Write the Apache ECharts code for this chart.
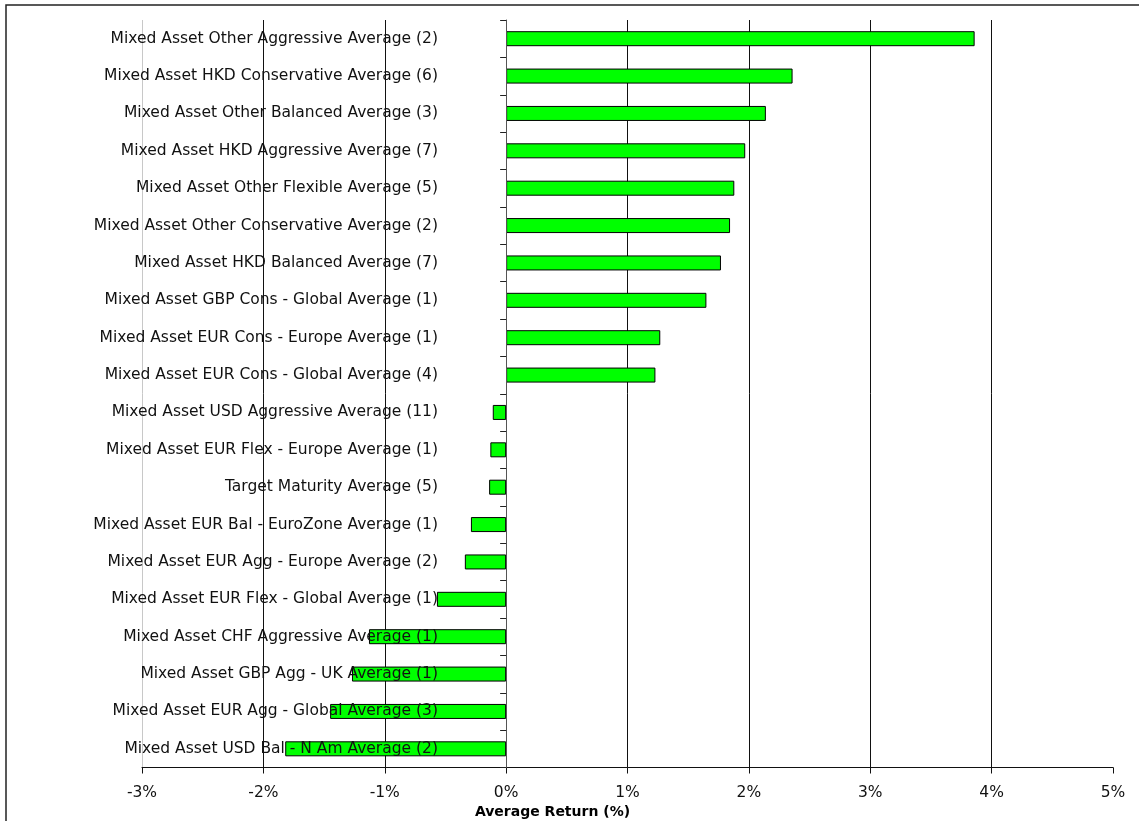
<!DOCTYPE html>
<html>
<head>
<meta charset="utf-8">
<script src="https://cdn.jsdelivr.net/npm/echarts@6/dist/echarts.min.js"></script>
<style>
  html, body { margin: 0; padding: 0; background: #fff; }
  #chart { width: 1139px; height: 821px; }
</style>
</head>
<body>
<div id="chart"></div>
<script>
// Sector names, listed top to bottom
const categories = [
  'Mixed Asset Other Aggressive Average (2)',
  'Mixed Asset HKD Conservative Average (6)',
  'Mixed Asset Other Balanced Average (3)',
  'Mixed Asset HKD Aggressive Average (7)',
  'Mixed Asset Other Flexible Average (5)',
  'Mixed Asset Other Conservative Average (2)',
  'Mixed Asset HKD Balanced Average (7)',
  'Mixed Asset GBP Cons - Global Average (1)',
  'Mixed Asset EUR Cons - Europe Average (1)',
  'Mixed Asset EUR Cons - Global Average (4)',
  'Mixed Asset USD Aggressive Average (11)',
  'Mixed Asset EUR Flex - Europe Average (1)',
  'Target Maturity Average (5)',
  'Mixed Asset EUR Bal - EuroZone Average (1)',
  'Mixed Asset EUR Agg - Europe Average (2)',
  'Mixed Asset EUR Flex - Global Average (1)',
  'Mixed Asset CHF Aggressive Average (1)',
  'Mixed Asset GBP Agg - UK Average (1)',
  'Mixed Asset EUR Agg - Global Average (3)',
  'Mixed Asset USD Bal - N Am Average (2)'
];

// Average return in percent, same order as categories
const averageReturn = [
  3.86, 2.36, 2.14, 1.97, 1.88, 1.845, 1.77, 1.65, 1.27, 1.23,
  -0.11, -0.13, -0.14, -0.29, -0.34, -0.57, -1.13, -1.27, -1.45, -1.82
];

// Value axis range and step
const axisMin = -3;
const axisMax = 5;
const axisStep = 1;
const axisTitle = 'Average Return (%)';

const FONT = 'DejaVu Sans';

const chart = echarts.init(document.getElementById('chart'), null, { renderer: 'canvas' });

const gridColors = [];
for (let v = axisMin; v <= axisMax; v += axisStep) {
  if (v === axisMin) gridColors.push('#c8c8c8');
  else if (v === axisMax) gridColors.push('rgba(0,0,0,0)');
  else gridColors.push('#111');
}

chart.setOption({
  animation: false,
  backgroundColor: '#fff',
  graphic: [{
    type: 'rect',
    shape: { x: 6, y: 5, width: 1200, height: 900 },
    style: { fill: 'none', stroke: '#222', lineWidth: 1.5 },
    z: 100
  }],
  grid: {
    left: 142, right: 26, top: 20, bottom: 53.5,
    containLabel: false,
    outerBoundsMode: 'none'
  },
  xAxis: {
    type: 'value',
    min: axisMin,
    max: axisMax,
    interval: axisStep,
    position: 'bottom',
    axisLine: { show: true, onZero: false, lineStyle: { color: '#111', width: 1 } },
    axisTick: { show: true, length: 6, lineStyle: { color: '#111' } },
    axisLabel: {
      margin: 17,
      color: '#111',
      fontFamily: FONT,
      fontSize: 15.5,
      formatter: v => v + '%'
    },
    splitLine: { show: true, lineStyle: { color: gridColors, width: 1 } },
    name: axisTitle,
    nameLocation: 'middle',
    nameGap: 31,
    nameTextStyle: {
      fontFamily: FONT,
      fontWeight: 'bold',
      fontSize: 14,
      color: '#000',
      padding: [0, 150, 0, 0]
    }
  },
  yAxis: {
    type: 'category',
    data: categories,
    inverse: true,
    z: 5,
    axisLine: { show: true, onZero: true, lineStyle: { color: '#555', width: 1 } },
    axisTick: { show: true, length: 6, lineStyle: { color: '#222' } },
    axisLabel: {
      // labels sit just left of the zero line, over the plot
      margin: -296,
      align: 'right',
      color: '#111',
      fontFamily: FONT,
      fontSize: 15.5
    },
    splitLine: { show: false }
  },
  series: [{
    type: 'bar',
    data: averageReturn,
    barWidth: 15,
    itemStyle: { color: '#00ff00', borderColor: '#000', borderWidth: 1 },
    z: 2
  }]
});
</script>
</body>
</html>
